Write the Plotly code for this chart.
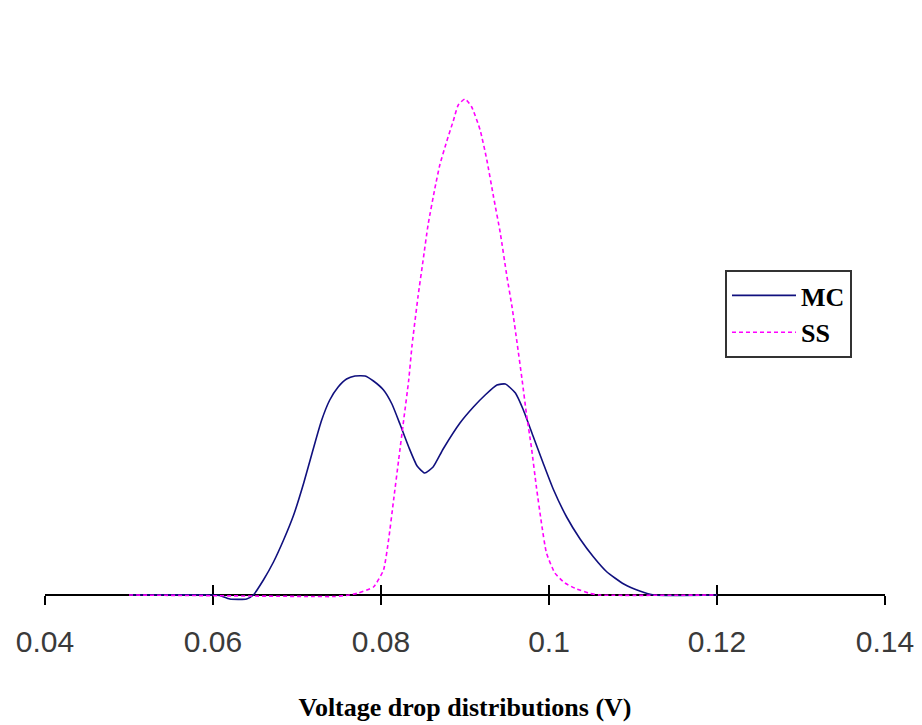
import plotly.graph_objects as go

# Voltage drop (V) and density values
mc_x = [0.050, 0.060, 0.0608, 0.0620, 0.0640, 0.0648, 0.0660, 0.0672, 0.0684, 0.0696,
        0.0708, 0.0719, 0.0729, 0.0739, 0.0749, 0.0759, 0.0769, 0.0781, 0.0791, 0.0803,
        0.0813, 0.0823, 0.0833, 0.0843, 0.0852, 0.0862, 0.0874, 0.0894, 0.0910, 0.0924,
        0.0938, 0.0948, 0.0960, 0.0969, 0.0981, 0.0993, 0.1005, 0.1021, 0.1037, 0.1053,
        0.1069, 0.1089, 0.1108, 0.1125, 0.120]
mc_y = [0.0, 0.0, -0.05, -0.4, -0.4, 0.0, 1.5, 3.3, 5.5, 8.0,
        11.2, 14.5, 17.4, 19.5, 20.8, 21.6, 21.9, 21.9, 21.4, 20.5,
        19.1, 17.0, 14.8, 12.9, 12.2, 12.8, 14.6, 17.2, 18.8, 20.0,
        21.0, 21.1, 20.2, 18.6, 15.9, 13.2, 10.6, 7.8, 5.6, 3.8,
        2.3, 1.1, 0.4, 0.0, 0.0]

ss_x = [0.050, 0.0720, 0.0745, 0.0762, 0.0773, 0.0791, 0.0803, 0.0809, 0.0815, 0.0821,
        0.0827, 0.0833, 0.0837, 0.0844, 0.0850, 0.0856, 0.0864, 0.0870, 0.0878, 0.0886,
        0.0892, 0.0900, 0.0908, 0.0918, 0.0926, 0.0934, 0.0942, 0.0950, 0.0956, 0.0962,
        0.0968, 0.0973, 0.0979, 0.0985, 0.0991, 0.0997, 0.1007, 0.1019, 0.1033, 0.1049,
        0.1060, 0.120]
ss_y = [0.0, -0.15, -0.15, 0.0, 0.2, 0.8, 2.5, 5.5, 9.5, 13.5,
        17.5, 21.5, 25.0, 29.8, 33.4, 37.0, 40.6, 43.0, 45.3, 47.4,
        49.0, 49.6, 48.8, 46.5, 43.5, 39.8, 36.2, 31.8, 28.8, 25.2,
        21.5, 18.2, 14.8, 10.8, 7.2, 4.2, 2.2, 1.2, 0.6, 0.15,
        0.0, 0.0]

tick_vals = [0.04, 0.06, 0.08, 0.10, 0.12, 0.14]
tick_text = ["0.04", "0.06", "0.08", "0.1", "0.12", "0.14"]

fig = go.Figure()
fig.add_trace(go.Scatter(x=mc_x, y=mc_y, mode="lines", name="MC",
                         line=dict(color="#10107e", width=1.6, shape="spline", smoothing=0.5)))
fig.add_trace(go.Scatter(x=ss_x, y=ss_y, mode="lines", name="SS",
                         line=dict(color="#ff00ff", width=1.6, dash="4px,3px",
                                   shape="spline", smoothing=0.5)))

axis_pos = 10 / 565

fig.update_layout(
    width=922, height=725,
    margin=dict(l=45, r=37, t=40, b=120, autoexpand=False),
    paper_bgcolor="white", plot_bgcolor="white",
    showlegend=True,
    legend=dict(
        x=(725 - 45) / 840, y=(605 - 270) / 565, xanchor="left", yanchor="top",
        bgcolor="white", bordercolor="#333333", borderwidth=2,
        font=dict(family="Liberation Serif", size=26, color="black", weight="bold"),
        itemwidth=64, tracegroupgap=0,
    ),
    xaxis=dict(
        range=[0.04, 0.14], anchor="free", position=axis_pos, automargin=False,
        layer="below traces",
        showline=True, linecolor="black", linewidth=1.5,
        ticks="outside", ticklen=9, tickwidth=1.5, tickcolor="black",
        tickvals=tick_vals, ticktext=tick_text,
        tickfont=dict(family="Liberation Sans", size=30, color="#3a3a3a"),
        ticklabelstandoff=11,
        showgrid=False, zeroline=False,
        title=dict(text="Voltage drop distributions (V)", standoff=40,
                   font=dict(family="Liberation Serif", size=26, color="black", weight="bold")),
    ),
    xaxis2=dict(
        range=[0.04, 0.14], overlaying="x", anchor="free", position=axis_pos,
        automargin=False, layer="below traces",
        ticks="inside", ticklen=10, tickwidth=1.5, tickcolor="black",
        tickvals=tick_vals, showticklabels=False, showline=False,
        showgrid=False, zeroline=False, matches="x",
    ),
    yaxis=dict(range=[-1, 55.5], visible=False, showgrid=False, zeroline=False),
)

# invisible trace so xaxis2 is rendered
fig.add_trace(go.Scatter(x=[0.04], y=[None], xaxis="x2", showlegend=False,
                         hoverinfo="skip", mode="lines"))

fig.write_html("out.html")
